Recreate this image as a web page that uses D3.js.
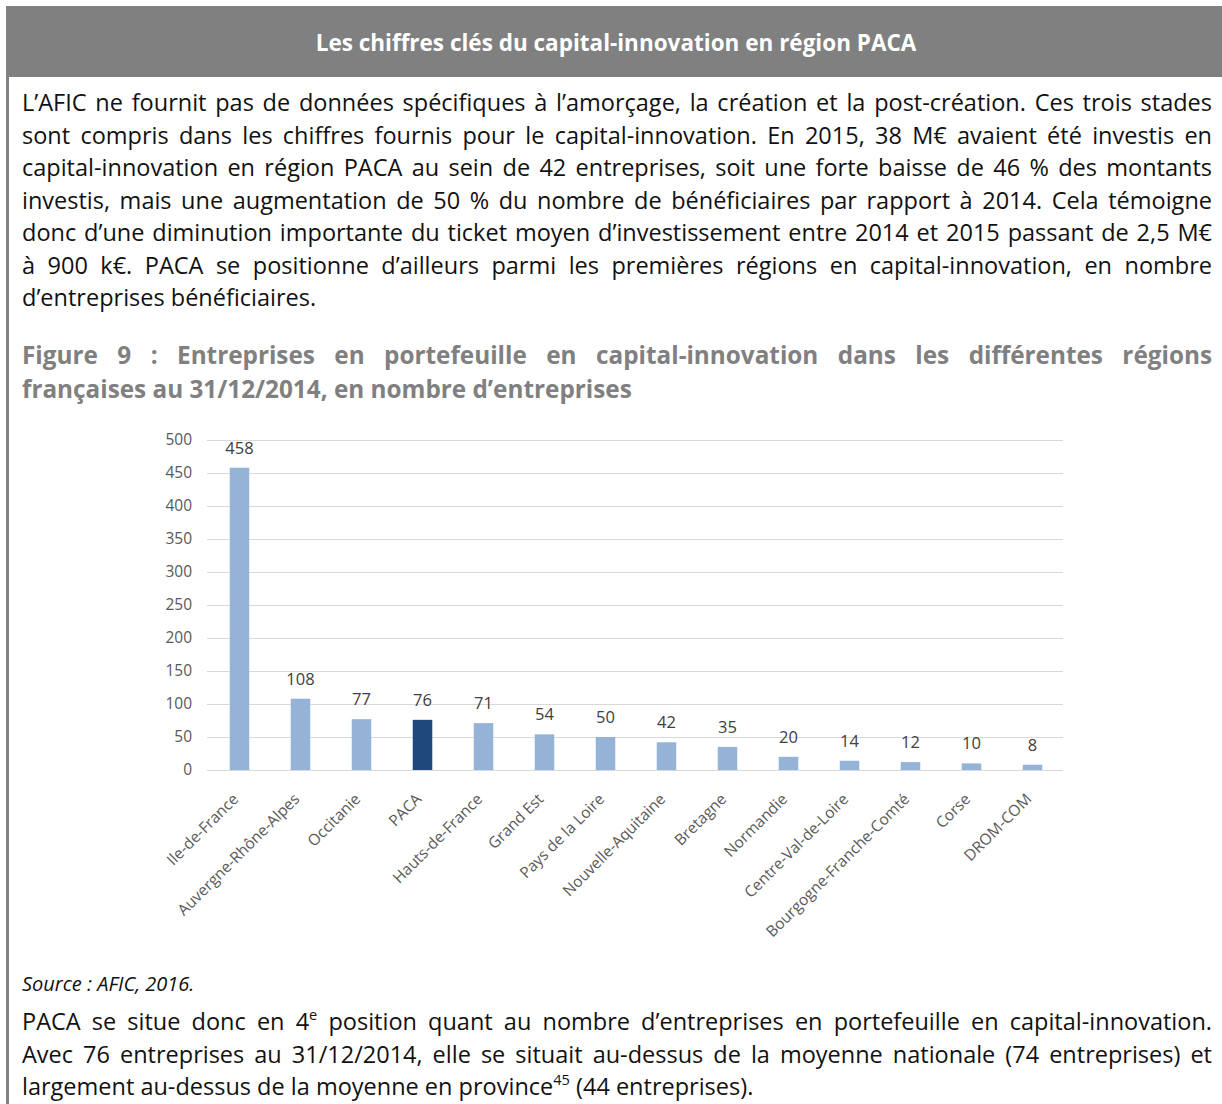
<!DOCTYPE html>
<html>
<head>
<meta charset="utf-8">
<script src="https://cdnjs.cloudflare.com/ajax/libs/d3/7.8.5/d3.min.js"></script>
<style>
  body { margin: 0; background: #fff; }
  svg { display: block; font-family: "Open Sans", Lato, sans-serif; }
</style>
</head>
<body>
<div id="page"></div>
<script>
// chart data
var regions = ["Ile-de-France", "Auvergne-Rhône-Alpes", "Occitanie", "PACA", "Hauts-de-France",
    "Grand Est", "Pays de la Loire", "Nouvelle-Aquitaine", "Bretagne", "Normandie",
    "Centre-Val-de-Loire", "Bourgogne-Franche-Comté", "Corse", "DROM-COM"];
var counts = [458, 108, 77, 76, 71, 54, 50, 42, 35, 20, 14, 12, 10, 8];
var highlight = "PACA";
var yTicks = [0, 50, 100, 150, 200, 250, 300, 350, 400, 450, 500];

// page text, one entry per printed line ("^" wraps superscript)
var introLines = [
    "L’AFIC ne fournit pas de données spécifiques à l’amorçage, la création et la post-création. Ces trois stades",
    "sont compris dans les chiffres fournis pour le capital-innovation. En 2015, 38 M€ avaient été investis en",
    "capital-innovation en région PACA au sein de 42 entreprises, soit une forte baisse de 46 % des montants",
    "investis, mais une augmentation de 50 % du nombre de bénéficiaires par rapport à 2014. Cela témoigne",
    "donc d’une diminution importante du ticket moyen d’investissement entre 2014 et 2015 passant de 2,5 M€",
    "à 900 k€. PACA se positionne d’ailleurs parmi les premières régions en capital-innovation, en nombre",
    "d’entreprises bénéficiaires."
];
var figLines = [
    "Figure 9 : Entreprises en portefeuille en capital-innovation dans les différentes régions",
    "françaises au 31/12/2014, en nombre d’entreprises"
];
var outroLines = [
    "PACA se situe donc en 4^e^ position quant au nombre d’entreprises en portefeuille en capital-innovation.",
    "Avec 76 entreprises au 31/12/2014, elle se situait au-dessus de la moyenne nationale (74 entreprises) et",
    "largement au-dessus de la moyenne en province^45^ (44 entreprises)."
];

var svgWidth = 1222;
var svgHeight = 1104;
var textLeft = 22, textRight = 1212;

var svg = d3.select("#page")
    .append("svg")
    .attr("width", svgWidth)
    .attr("height", svgHeight);

// grey rule down the left side and the header band
svg.append("rect")
    .attr("x", 6).attr("y", 6)
    .attr("width", 3).attr("height", svgHeight - 6)
    .attr("fill", "#808080");
svg.append("rect")
    .attr("x", 6).attr("y", 6)
    .attr("width", svgWidth - 6).attr("height", 71)
    .attr("fill", "#808080");
svg.append("text")
    .attr("x", 616).attr("y", 51)
    .attr("text-anchor", "middle")
    .attr("fill", "#fff")
    .attr("font-weight", "bold")
    .attr("font-size", 22.5)
    .text("Les chiffres clés du capital-innovation en région PACA");

// writes lines of text, stretching word spaces so justified lines hit the right margin
function writeLines(lines, firstBaseline, lineHeight, opts) {
    lines.forEach(function(line, i) {
        var t = svg.append("text")
            .attr("x", textLeft)
            .attr("y", firstBaseline + i * lineHeight)
            .attr("font-size", opts.size)
            .attr("fill", opts.color)
            .attr("font-weight", opts.weight || "normal")
            .attr("font-style", opts.style || "normal")
            .attr("xml:space", "preserve");
        line.split("^").forEach(function(part, k) {
            var sp = t.append("tspan").text(part);
            if (k % 2 === 1) {
                sp.attr("font-size", opts.size * 0.62).attr("baseline-shift", "super");
            }
        });
        var justify = i < lines.length - 1 && !opts.noJustify;
        if (justify) {
            var w = t.node().getComputedTextLength();
            var spaces = (line.match(/ /g) || []).length;
            if (spaces > 0) {
                t.attr("word-spacing", ((textRight - textLeft) - w) / spaces);
            }
        }
    });
}

writeLines(introLines, 111, 32.5, {size: 23.5, color: "#111"});
writeLines(figLines, 364, 34, {size: 24.3, color: "#808080", weight: "bold"});
writeLines(["Source : AFIC, 2016."], 991, 30, {size: 20, color: "#111", style: "italic"});
writeLines(outroLines, 1030, 32.5, {size: 23.5, color: "#111"});

// ---- the bar chart ----
var plotLeft = 207, plotRight = 1063, plotTop = 440, plotBottom = 770;

var x = d3.scaleBand()
    .domain(regions)
    .range([plotLeft + 2, plotRight])
    .paddingInner(0.68)
    .paddingOuter(0.34);

var y = d3.scaleLinear()
    .domain([0, 500])
    .range([plotBottom, plotTop]);

// gridlines + y labels from one axis
var yAxis = svg.append("g")
    .attr("transform", `translate(${plotLeft}, 0)`)
    .call(d3.axisLeft(y).tickValues(yTicks).tickSize(-(plotRight - plotLeft)).tickPadding(15));
yAxis.select(".domain").remove();
yAxis.selectAll("line").attr("stroke", "#d9d9d9");
yAxis.selectAll("text")
    .attr("fill", "#595959")
    .attr("font-size", 15.5)
    .attr("font-family", "'Open Sans', sans-serif");

var data = regions.map(function(r, i) { return {region: r, value: counts[i]}; });

svg.selectAll(".bar")
    .data(data)
    .enter()
    .append("rect")
    .attr("class", "bar")
    .attr("x", d => x(d.region))
    .attr("y", d => y(d.value))
    .attr("width", x.bandwidth())
    .attr("height", d => plotBottom - y(d.value))
    .attr("fill", d => d.region === highlight ? "#1f497d" : "#95b3d7");

svg.selectAll(".val")
    .data(data)
    .enter()
    .append("text")
    .attr("class", "val")
    .attr("x", d => x(d.region) + x.bandwidth() / 2)
    .attr("y", d => y(d.value) - 14)
    .attr("text-anchor", "middle")
    .attr("font-size", 16.5)
    .attr("fill", "#404040")
    .text(d => d.value);

// rotated category labels
var xAxis = svg.append("g")
    .attr("transform", `translate(0, ${plotBottom})`)
    .call(d3.axisBottom(x).tickSize(0));
xAxis.select(".domain").remove();
xAxis.selectAll("text")
    .attr("x", 0).attr("y", 0).attr("dy", 0)
    .attr("transform", "translate(0, 30) rotate(-45)")
    .attr("text-anchor", "end")
    .attr("fill", "#595959")
    .attr("font-size", 15.5)
    .attr("font-family", "'Open Sans', sans-serif");
</script>
</body>
</html>
